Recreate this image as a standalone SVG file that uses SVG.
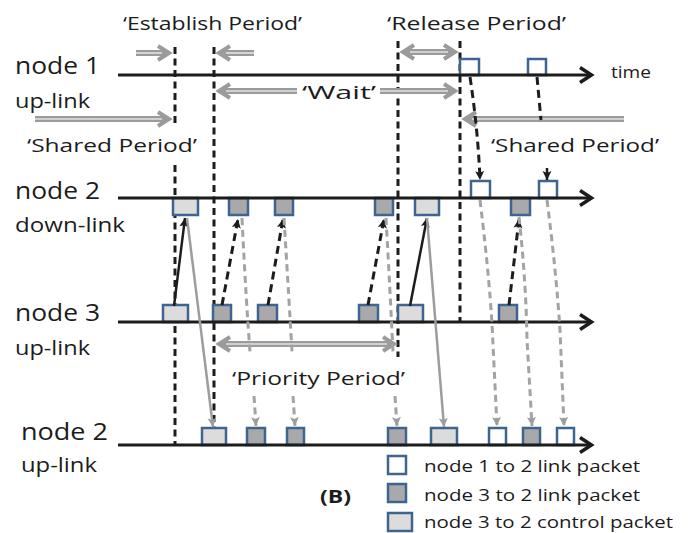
<svg xmlns="http://www.w3.org/2000/svg" width="688" height="533" viewBox="0 0 688 533">
  <style>
    text { font-family: "Open Sans", "Noto Sans", "Liberation Sans", sans-serif; fill: #1c1c1c; }
    .big { font-size: 24px; }
    .sub { font-size: 20px; }
    .per { font-size: 19px; }
    .leg { font-size: 17px; }
    .axis { stroke: #1c1c1c; stroke-width: 3; fill: none; marker-end: url(#axHead); }
    .bound { stroke: #1c1c1c; stroke-width: 3; stroke-dasharray: 7 4.5; fill: none; }
    .pkt { stroke: #3d6590; stroke-width: 2.5; }
    .p12 { fill: #ffffff; }
    .p32 { fill: #a9a9ab; }
    .ctl { fill: #dcdcdd; }
    .span { stroke: #9b9b9b; stroke-width: 6; fill: none; }
    .spanIn { stroke: #e2e2e2; stroke-width: 1.6; fill: none; }
    .kd { stroke: #1c1c1c; stroke-width: 3; stroke-dasharray: 8 5; fill: none; }
    .ks { stroke: #1c1c1c; stroke-width: 2.5; fill: none; }
    .gd { stroke: #a3a3a3; stroke-width: 3; stroke-dasharray: 7 4.5; fill: none; }
    .gs { stroke: #9d9d9d; stroke-width: 2.5; fill: none; }
  </style>
  <defs>
    <marker id="axHead" viewBox="-18 -10 20 20" refX="-5" refY="0" markerWidth="20" markerHeight="20" markerUnits="userSpaceOnUse" orient="auto">
      <path d="M-15,-7.5 L-3.5,0 L-15,7.5" stroke="#1c1c1c" stroke-width="3.5" fill="none"/>
    </marker>
    <marker id="spanHead" viewBox="-20 -10 22 20" refX="-5" refY="0" markerWidth="22" markerHeight="20" markerUnits="userSpaceOnUse" orient="auto-start-reverse">
      <path d="M-15,-7 L-4,0 L-15,7" stroke="#9b9b9b" stroke-width="4" fill="none"/>
    </marker>
    <marker id="kHead" viewBox="-10 -6 11 12" refX="0" refY="0" markerWidth="11" markerHeight="12" markerUnits="userSpaceOnUse" orient="auto">
      <path d="M0,0 L-9,-4.5 L-7,0 L-9,4.5 z" fill="#1c1c1c"/>
    </marker>
    <marker id="gHead" viewBox="-10 -6 11 12" refX="0" refY="0" markerWidth="11" markerHeight="12" markerUnits="userSpaceOnUse" orient="auto">
      <path d="M0,0 L-9,-4.5 L-7,0 L-9,4.5 z" fill="#9d9d9d"/>
    </marker>
  </defs>

  <rect width="688" height="533" fill="#ffffff"/>

  <!-- period boundaries -->
  <g id="boundaries">
    <path class="bound" d="M175,47 L175,123 M175,165 L175,445"/>
    <path class="bound" d="M214,47 L214,430"/>
    <path class="bound" d="M398,41 L398,357"/>
    <path class="bound" d="M460,41 L460,322"/>
  </g>

  <!-- period spans -->
  <g id="periods">
    <text class="per" x="123" y="30" textLength="179" lengthAdjust="spacingAndGlyphs">‘Establish Period’</text>
    <path class="span" d="M136,53 L168,53" marker-end="url(#spanHead)"/>
    <path class="spanIn" d="M136,53 L162,53"/>
    <path class="span" d="M254,53 L220,53" marker-end="url(#spanHead)"/>
    <path class="spanIn" d="M254,53 L226,53"/>

    <text class="per" x="302" y="99" textLength="74" lengthAdjust="spacingAndGlyphs">‘Wait’</text>
    <path class="span" d="M297,91 L220,91" marker-end="url(#spanHead)"/>
    <path class="spanIn" d="M297,91 L226,91"/>
    <path class="span" d="M380,91 L454,91" marker-end="url(#spanHead)"/>
    <path class="spanIn" d="M380,91 L448,91"/>

    <text class="per" x="387" y="30" textLength="179" lengthAdjust="spacingAndGlyphs">‘Release Period’</text>
    <path class="span" d="M404,52 L454,52" marker-start="url(#spanHead)" marker-end="url(#spanHead)"/>
    <path class="spanIn" d="M410,52 L448,52"/>

    <text class="per" x="27" y="152" textLength="170" lengthAdjust="spacingAndGlyphs">‘Shared Period’</text>
    <path class="span" d="M35,119 L168,119" marker-end="url(#spanHead)"/>
    <path class="spanIn" d="M35,119 L162,119"/>

    <text class="per" x="491" y="152" textLength="168" lengthAdjust="spacingAndGlyphs">‘Shared Period’</text>
    <path class="span" d="M624,119 L466,119" marker-end="url(#spanHead)"/>
    <path class="spanIn" d="M624,119 L472,119"/>

    <text class="per" x="232" y="385" textLength="173" lengthAdjust="spacingAndGlyphs">‘Priority Period’</text>
    <path class="span" d="M220,344 L393,344" marker-start="url(#spanHead)" marker-end="url(#spanHead)"/>
    <path class="spanIn" d="M226,344 L387,344"/>
  </g>

  <!-- node 1 up-link -->
  <g id="node1-uplink">
    <rect class="pkt p12" x="460" y="59" width="19" height="16"/>
    <rect class="pkt p12" x="528" y="59" width="18" height="16"/>
    <path class="axis" d="M118,75 L590,75"/>
    <text class="big" x="15" y="74" textLength="85" lengthAdjust="spacingAndGlyphs">node 1</text>
    <text class="sub" x="15" y="108" textLength="75" lengthAdjust="spacingAndGlyphs">up-link</text>
    <text x="611" y="78" font-size="17" textLength="40" lengthAdjust="spacingAndGlyphs">time</text>
  </g>

  <!-- node 2 down-link -->
  <g id="node2-downlink">
    <rect class="pkt ctl" x="173" y="198" width="25" height="17"/>
    <rect class="pkt p32" x="229" y="198" width="19" height="17"/>
    <rect class="pkt p32" x="275" y="198" width="18" height="17"/>
    <rect class="pkt p32" x="375" y="198" width="18" height="17"/>
    <rect class="pkt ctl" x="415" y="198" width="24" height="17"/>
    <rect class="pkt p12" x="471" y="181" width="19" height="17"/>
    <rect class="pkt p32" x="511" y="198" width="19" height="17"/>
    <rect class="pkt p12" x="539" y="181" width="18" height="17"/>
    <path class="axis" d="M118,198 L590,198"/>
    <text class="big" x="15" y="199" textLength="85" lengthAdjust="spacingAndGlyphs">node 2</text>
    <text class="sub" x="15" y="232" textLength="110" lengthAdjust="spacingAndGlyphs">down-link</text>
  </g>

  <!-- node 3 up-link -->
  <g id="node3-uplink">
    <rect class="pkt ctl" x="163" y="305" width="25" height="17"/>
    <rect class="pkt p32" x="213" y="305" width="18" height="17"/>
    <rect class="pkt p32" x="258" y="305" width="19" height="17"/>
    <rect class="pkt p32" x="359" y="305" width="19" height="17"/>
    <rect class="pkt ctl" x="398" y="305" width="25" height="17"/>
    <rect class="pkt p32" x="499" y="305" width="18" height="17"/>
    <path class="axis" d="M118,322 L590,322"/>
    <text class="big" x="15" y="321" textLength="85" lengthAdjust="spacingAndGlyphs">node 3</text>
    <text class="sub" x="15" y="355" textLength="75" lengthAdjust="spacingAndGlyphs">up-link</text>
  </g>

  <!-- node 2 up-link -->
  <g id="node2-uplink">
    <rect class="pkt ctl" x="202" y="428" width="24" height="17"/>
    <rect class="pkt p32" x="247" y="428" width="18" height="17"/>
    <rect class="pkt p32" x="287" y="428" width="17" height="17"/>
    <rect class="pkt p32" x="388" y="428" width="18" height="17"/>
    <rect class="pkt ctl" x="431" y="428" width="26" height="17"/>
    <rect class="pkt p12" x="489" y="428" width="17" height="17"/>
    <rect class="pkt p32" x="523" y="428" width="17" height="17"/>
    <rect class="pkt p12" x="557" y="428" width="17" height="17"/>
    <path class="axis" d="M118,445 L590,445"/>
    <text class="big" x="21" y="440" textLength="87" lengthAdjust="spacingAndGlyphs">node 2</text>
    <text class="sub" x="21" y="472" textLength="76" lengthAdjust="spacingAndGlyphs">up-link</text>
  </g>

  <!-- packet forwarding -->
  <g id="connectors">
    <!-- node 1 to node 2 down-link -->
    <path class="kd" d="M470,77 Q478,130 480,180" marker-end="url(#kHead)"/>
    <path class="kd" d="M537,77 L541,120"/>
    <path class="ks" d="M547,168 L547,180" stroke-width="2.5" marker-end="url(#kHead)"/>

    <!-- node 3 control to node 2 down-link -->
    <path class="ks" d="M174,306 L185,218" marker-end="url(#kHead)"/>
    <path class="ks" d="M410,306 L427,218" marker-end="url(#kHead)"/>

    <!-- node 3 data to node 2 down-link -->
    <path class="kd" d="M222,305 L238,219" marker-end="url(#kHead)"/>
    <path class="kd" d="M268,305 L283,219" marker-end="url(#kHead)"/>
    <path class="kd" d="M368,305 L384,219" marker-end="url(#kHead)"/>
    <path class="kd" d="M509,305 L519,219" marker-end="url(#kHead)"/>

    <!-- node 2 down-link control to node 2 up-link -->
    <path class="gs" d="M187,218 L213,427" marker-end="url(#gHead)"/>
    <path class="gs" d="M427,218 L444,427" marker-end="url(#gHead)"/>

    <!-- node 2 down-link data to node 2 up-link -->
    <path class="gd" d="M242,218 Q246,300 250,352"/>
    <path class="gd" d="M254,396 L256,426" marker-end="url(#gHead)"/>
    <path class="gd" d="M284,218 Q289,300 292,352"/>
    <path class="gd" d="M293,396 L295,426" marker-end="url(#gHead)"/>
    <path class="gd" d="M386,218 Q390,290 393,352"/>
    <path class="gd" d="M395,396 L397,426" marker-end="url(#gHead)"/>
    <path class="gd" d="M480,200 Q491,290 493,345 L497,426" marker-end="url(#gHead)"/>
    <path class="gd" d="M519,217 Q526,280 527,340 L532,426" marker-end="url(#gHead)"/>
    <path class="gd" d="M547,200 Q556,270 560,330 L564,426" marker-end="url(#gHead)"/>
  </g>

  <!-- legend -->
  <g id="legend">
    <text x="320" y="503" font-size="18" font-weight="bold" textLength="31" lengthAdjust="spacingAndGlyphs">(B)</text>
    <rect class="pkt p12" x="388" y="456" width="18" height="18"/>
    <text class="leg" x="424" y="472" textLength="216" lengthAdjust="spacingAndGlyphs">node 1 to 2 link packet</text>
    <rect class="pkt p32" x="388" y="484" width="18" height="18"/>
    <text class="leg" x="424" y="501" textLength="216" lengthAdjust="spacingAndGlyphs">node 3 to 2 link packet</text>
    <rect class="pkt ctl" x="388" y="513" width="24" height="18"/>
    <text class="leg" x="424" y="528" textLength="249" lengthAdjust="spacingAndGlyphs">node 3 to 2 control packet</text>
  </g>
</svg>
